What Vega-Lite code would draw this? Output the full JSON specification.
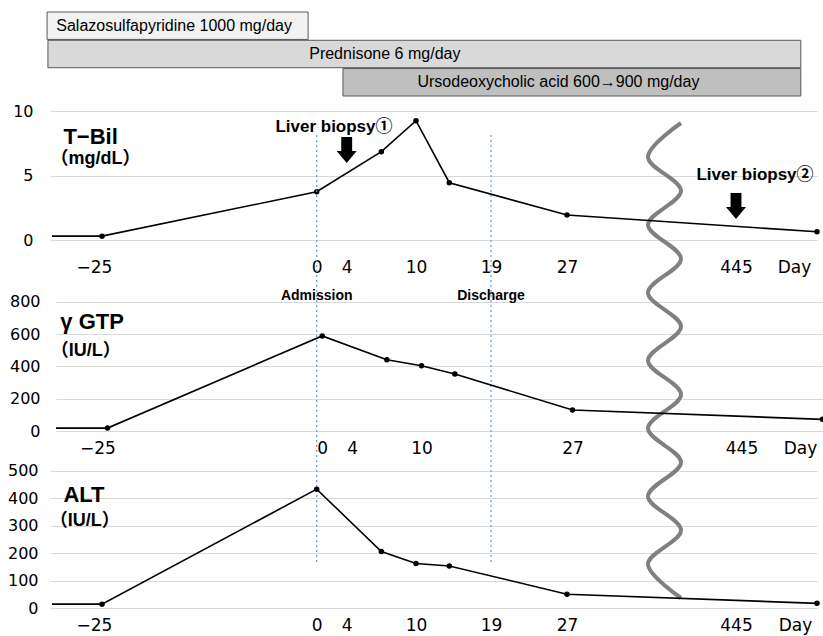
{
  "$schema": "https://vega.github.io/schema/vega-lite/v6.json",
  "width": 771,
  "height": 636,
  "autosize": {"type": "none"},
  "padding": {"left": 52, "top": 0, "right": 0, "bottom": 0},
  "background": "white",
  "config": {
    "view": {"stroke": null},
    "axis": {"labelColor": "#000000", "labelFont": "DejaVu Sans", "domain": false, "ticks": false, "tickSize": 0, "gridColor": "#d9d9d9", "gridWidth": 1}
  },
  "datasets": {
    "treatments": [
      {"drug": "Salazosulfapyridine 1000 mg/day", "start": -31.4, "end": -1, "labelDay": -16.6},
      {"drug": "Prednisone 6 mg/day", "start": -31.3, "end": 473, "labelDay": 7.3},
      {"drug": "Ursodeoxycholic acid  600→900 mg/day", "start": 3.5, "end": 473, "labelDay": 26.1}
    ],
    "tbil": [
      {"day": -31, "value": 0.3}, {"day": -25, "value": 0.3}, {"day": 0, "value": 3.75}, {"day": 7, "value": 6.86},
      {"day": 10, "value": 9.27}, {"day": 14, "value": 4.45}, {"day": 27, "value": 1.94}, {"day": 480, "value": 0.64}
    ],
    "ggtp": [
      {"day": -31, "value": 18}, {"day": -25, "value": 18}, {"day": 0, "value": 588}, {"day": 7, "value": 441},
      {"day": 10, "value": 404}, {"day": 14, "value": 353}, {"day": 27, "value": 130}, {"day": 480, "value": 72}
    ],
    "alt": [
      {"day": -31, "value": 15}, {"day": -25, "value": 15}, {"day": 0, "value": 433}, {"day": 7, "value": 206},
      {"day": 10, "value": 163}, {"day": 14, "value": 154}, {"day": 27, "value": 51}, {"day": 480, "value": 18}
    ],
    "events": [
      {"event": "Admission", "day": 0},
      {"event": "Discharge", "day": 19}
    ],
    "biopsies": [
      {"label": "Liver biopsy①", "day": 4, "arrowLevel": 7.0, "labelDay": 2.3, "labelLevel": 8.8},
      {"label": "Liver biopsy②", "day": 445, "arrowLevel": 2.64, "labelDay": 453.2, "labelLevel": 5.05}
    ],
    "tbilLabels": [
      {"text": "T−Bil", "day": -29.5, "level": 8.04, "role": "name"},
      {"text": "（mg/dL）", "day": -31.0, "level": 6.33, "role": "unit"}
    ],
    "ggtpLabels": [
      {"text": "γ GTP", "day": -30.5, "level": 674, "role": "name"},
      {"text": "（IU/L）", "day": -31.6, "level": 495, "role": "unit"}
    ],
    "altLabels": [
      {"text": "ALT", "day": -29.5, "level": 413, "role": "name"},
      {"text": "（IU/L）", "day": -31.1, "level": 317, "role": "unit"}
    ],
    "wave": [
      {"k": 0, "side": 1}, {"k": 1, "side": -1}, {"k": 2, "side": 1}, {"k": 3, "side": -1}, {"k": 4, "side": 1},
      {"k": 5, "side": -1}, {"k": 6, "side": 1}, {"k": 7, "side": -1}, {"k": 8, "side": 1}, {"k": 9, "side": -1},
      {"k": 10, "side": 1}, {"k": 11, "side": -1}, {"k": 12, "side": 1}, {"k": 13, "side": -1}, {"k": 14, "side": 1}
    ]
  },
  "layer": [
    {
      "data": {"name": "treatments"},
      "layer": [
        {
          "mark": {"type": "bar", "stroke": "#595959", "strokeWidth": 1},
          "encoding": {
            "x": {"field": "start", "type": "quantitative", "scale": {"domain": [-31, -25, 0, 4, 10, 19, 27, 445, 480], "range": [-1.5, 50, 264.7, 294.7, 364, 439, 515, 684, 765], "nice": false, "zero": false}, "axis": null},
            "x2": {"field": "end"},
            "y": {"field": "drug", "type": "nominal", "sort": null, "scale": {"domain": ["Salazosulfapyridine 1000 mg/day", "Prednisone 6 mg/day", "Ursodeoxycholic acid  600→900 mg/day"], "range": [12, 96], "paddingInner": 0.03, "paddingOuter": 0}, "axis": null},
            "color": {"field": "drug", "type": "nominal", "scale": {"domain": ["Salazosulfapyridine 1000 mg/day", "Prednisone 6 mg/day", "Ursodeoxycholic acid  600→900 mg/day"], "range": ["#f2f2f2", "#d9d9d9", "#bfbfbf"]}, "legend": null}
          }
        },
        {
          "mark": {"type": "text", "fontSize": 16, "font": "Liberation Sans, Noto Sans CJK JP", "color": "#000000"},
          "encoding": {
            "x": {"field": "labelDay", "type": "quantitative"},
            "y": {"field": "drug", "type": "nominal", "sort": null},
            "text": {"field": "drug"}
          }
        }
      ]
    },
    {
      "data": {"name": "wave"},
      "mark": {"type": "line", "interpolate": "cardinal", "color": "#808080", "strokeWidth": 4},
      "encoding": {
        "x": {"field": "side", "type": "quantitative", "scale": {"domain": [-1, 1], "range": [596, 629], "nice": false, "zero": false}, "axis": null},
        "y": {"field": "k", "type": "quantitative", "scale": {"domain": [0, 14], "range": [123, 598], "nice": false, "zero": false}, "axis": null},
        "order": {"field": "k", "type": "quantitative"}
      }
    },
    {
      "layer": [
        {
          "data": {"name": "tbil"},
          "mark": {"type": "line", "color": "#000000", "strokeWidth": 1.6, "clip": true},
          "encoding": {
            "x": {"field": "day", "type": "quantitative",
              "scale": {"domain": [-31, -25, 0, 4, 10, 19, 27, 445, 480], "range": [-1.5, 50, 264.7, 294.7, 364, 439, 515, 684, 765], "nice": false, "zero": false},
              "axis": {"orient": "bottom", "values": [-25, 0, 4, 10, 19, 27, 445], "format": "d", "offset": -369, "labelPadding": 0, "labelBaseline": "middle", "labelFontSize": 17, "grid": false, "labelFlush": false, "labelOverlap": false,
                "labelOffset": {"condition": {"test": "datum.value < 0", "value": -8}, "value": 0},
                "title": "Day", "titleX": 742, "titleY": 0, "titleBaseline": "middle", "titleAlign": "center", "titleFontWeight": "normal", "titleFontSize": 17, "titleFont": "DejaVu Sans", "titleColor": "#000000"}},
            "y": {"field": "value", "type": "quantitative",
              "scale": {"domain": [0, 10], "range": [240, 111.3], "nice": false, "zero": false},
              "axis": {"orient": "left", "values": [0, 5, 10], "format": "d", "grid": true, "labelPadding": 19, "labelFontSize": 16, "title": null}}
          }
        },
        {
          "data": {"name": "tbil"},
          "transform": [{"filter": "datum.day >= -25"}],
          "mark": {"type": "point", "filled": true, "color": "#000000", "size": 30, "opacity": 1},
          "encoding": {
            "x": {"field": "day", "type": "quantitative"},
            "y": {"field": "value", "type": "quantitative"}
          }
        },
        {
          "data": {"name": "events"},
          "mark": {"type": "rule", "color": "#5b9bd5", "strokeDash": [2, 3], "strokeWidth": 1.2},
          "encoding": {
            "x": {"field": "day", "type": "quantitative"},
            "y": {"datum": 8.16, "type": "quantitative"},
            "y2": {"datum": -25.25}
          }
        },
        {
          "data": {"name": "events"},
          "mark": {"type": "text", "fontSize": 14, "fontWeight": "bold", "font": "Liberation Sans", "color": "#000000"},
          "encoding": {
            "x": {"field": "day", "type": "quantitative"},
            "y": {"datum": -4.35, "type": "quantitative"},
            "text": {"field": "event"}
          }
        },
        {
          "data": {"name": "biopsies"},
          "mark": {"type": "point", "shape": "M-0.42,-1L0.42,-1L0.42,0.08L0.77,0.08L0,1L-0.77,0.08L-0.42,0.08Z", "size": 676, "filled": true, "color": "#000000", "opacity": 1},
          "encoding": {
            "x": {"field": "day", "type": "quantitative"},
            "y": {"field": "arrowLevel", "type": "quantitative"}
          }
        },
        {
          "data": {"name": "biopsies"},
          "mark": {"type": "text", "fontSize": 17, "fontWeight": "bold", "font": "Liberation Sans, Noto Sans CJK JP", "color": "#000000"},
          "encoding": {
            "x": {"field": "labelDay", "type": "quantitative"},
            "y": {"field": "labelLevel", "type": "quantitative"},
            "text": {"field": "label"}
          }
        },
        {
          "data": {"name": "tbilLabels"},
          "mark": {"type": "text", "align": "left", "fontWeight": "bold", "font": "Liberation Sans, Noto Sans CJK JP", "color": "#000000"},
          "encoding": {
            "x": {"field": "day", "type": "quantitative"},
            "y": {"field": "level", "type": "quantitative"},
            "text": {"field": "text"},
            "size": {"field": "role", "type": "nominal", "scale": {"domain": ["name", "unit"], "range": [22, 18]}, "legend": null}
          }
        }
      ]
    },
    {
      "layer": [
        {
          "data": {"name": "ggtp"},
          "mark": {"type": "line", "color": "#000000", "strokeWidth": 1.6, "clip": true},
          "encoding": {
            "x": {"field": "day", "type": "quantitative",
              "scale": {"domain": [-31, -25, 0, 4, 10, 19, 27, 445, 480], "range": [4, 55.5, 270.2, 300.2, 369.5, 444.5, 520.5, 689.5, 770.5], "nice": false, "zero": false},
              "axis": {"orient": "bottom", "values": [-25, 0, 4, 10, 27, 445], "format": "d", "offset": -188, "labelPadding": 0, "labelBaseline": "middle", "labelFontSize": 17, "grid": false, "labelFlush": false, "labelOverlap": false,
                "labelOffset": {"condition": {"test": "datum.value < 0", "value": -10}, "value": 0},
                "title": "Day", "titleX": 748, "titleY": 0, "titleBaseline": "middle", "titleAlign": "center", "titleFontWeight": "normal", "titleFontSize": 17, "titleFont": "DejaVu Sans", "titleColor": "#000000"}},
            "y": {"field": "value", "type": "quantitative",
              "scale": {"domain": [0, 800], "range": [431, 301.7], "nice": false, "zero": false},
              "axis": {"orient": "left", "values": [0, 200, 400, 600, 800], "format": "d", "grid": true, "labelPadding": 12, "labelFontSize": 16, "title": null}}
          }
        },
        {
          "data": {"name": "ggtp"},
          "transform": [{"filter": "datum.day >= -25"}],
          "mark": {"type": "point", "filled": true, "color": "#000000", "size": 30, "opacity": 1},
          "encoding": {
            "x": {"field": "day", "type": "quantitative"},
            "y": {"field": "value", "type": "quantitative"}
          }
        },
        {
          "data": {"name": "ggtpLabels"},
          "mark": {"type": "text", "align": "left", "fontWeight": "bold", "font": "Liberation Sans, Noto Sans CJK JP", "color": "#000000"},
          "encoding": {
            "x": {"field": "day", "type": "quantitative"},
            "y": {"field": "level", "type": "quantitative"},
            "text": {"field": "text"},
            "size": {"field": "role", "type": "nominal", "scale": {"domain": ["name", "unit"], "range": [22, 18]}, "legend": null}
          }
        }
      ]
    },
    {
      "layer": [
        {
          "data": {"name": "alt"},
          "mark": {"type": "line", "color": "#000000", "strokeWidth": 1.6, "clip": true},
          "encoding": {
            "x": {"field": "day", "type": "quantitative",
              "scale": {"domain": [-31, -25, 0, 4, 10, 19, 27, 445, 480], "range": [-1.5, 50, 264.7, 294.7, 364, 439, 515, 684, 765], "nice": false, "zero": false},
              "axis": {"orient": "bottom", "values": [-25, 0, 4, 10, 19, 27, 445], "format": "d", "offset": -11, "labelPadding": 0, "labelBaseline": "middle", "labelFontSize": 17, "grid": false, "labelFlush": false, "labelOverlap": false,
                "labelOffset": {"condition": {"test": "datum.value < 0", "value": -8}, "value": 0},
                "title": "Day", "titleX": 743, "titleY": 0, "titleBaseline": "middle", "titleAlign": "center", "titleFontWeight": "normal", "titleFontSize": 17, "titleFont": "DejaVu Sans", "titleColor": "#000000"}},
            "y": {"field": "value", "type": "quantitative",
              "scale": {"domain": [0, 500], "range": [608.3, 470.7], "nice": false, "zero": false},
              "axis": {"orient": "left", "values": [0, 100, 200, 300, 400, 500], "format": "d", "grid": true, "labelPadding": 14, "labelFontSize": 16, "title": null}}
          }
        },
        {
          "data": {"name": "alt"},
          "transform": [{"filter": "datum.day >= -25"}],
          "mark": {"type": "point", "filled": true, "color": "#000000", "size": 30, "opacity": 1},
          "encoding": {
            "x": {"field": "day", "type": "quantitative"},
            "y": {"field": "value", "type": "quantitative"}
          }
        },
        {
          "data": {"name": "altLabels"},
          "mark": {"type": "text", "align": "left", "fontWeight": "bold", "font": "Liberation Sans, Noto Sans CJK JP", "color": "#000000"},
          "encoding": {
            "x": {"field": "day", "type": "quantitative"},
            "y": {"field": "level", "type": "quantitative"},
            "text": {"field": "text"},
            "size": {"field": "role", "type": "nominal", "scale": {"domain": ["name", "unit"], "range": [22, 18]}, "legend": null}
          }
        }
      ]
    }
  ],
  "resolve": {
    "scale": {"x": "independent", "y": "independent"},
    "axis": {"x": "independent", "y": "independent"}
  }
}
